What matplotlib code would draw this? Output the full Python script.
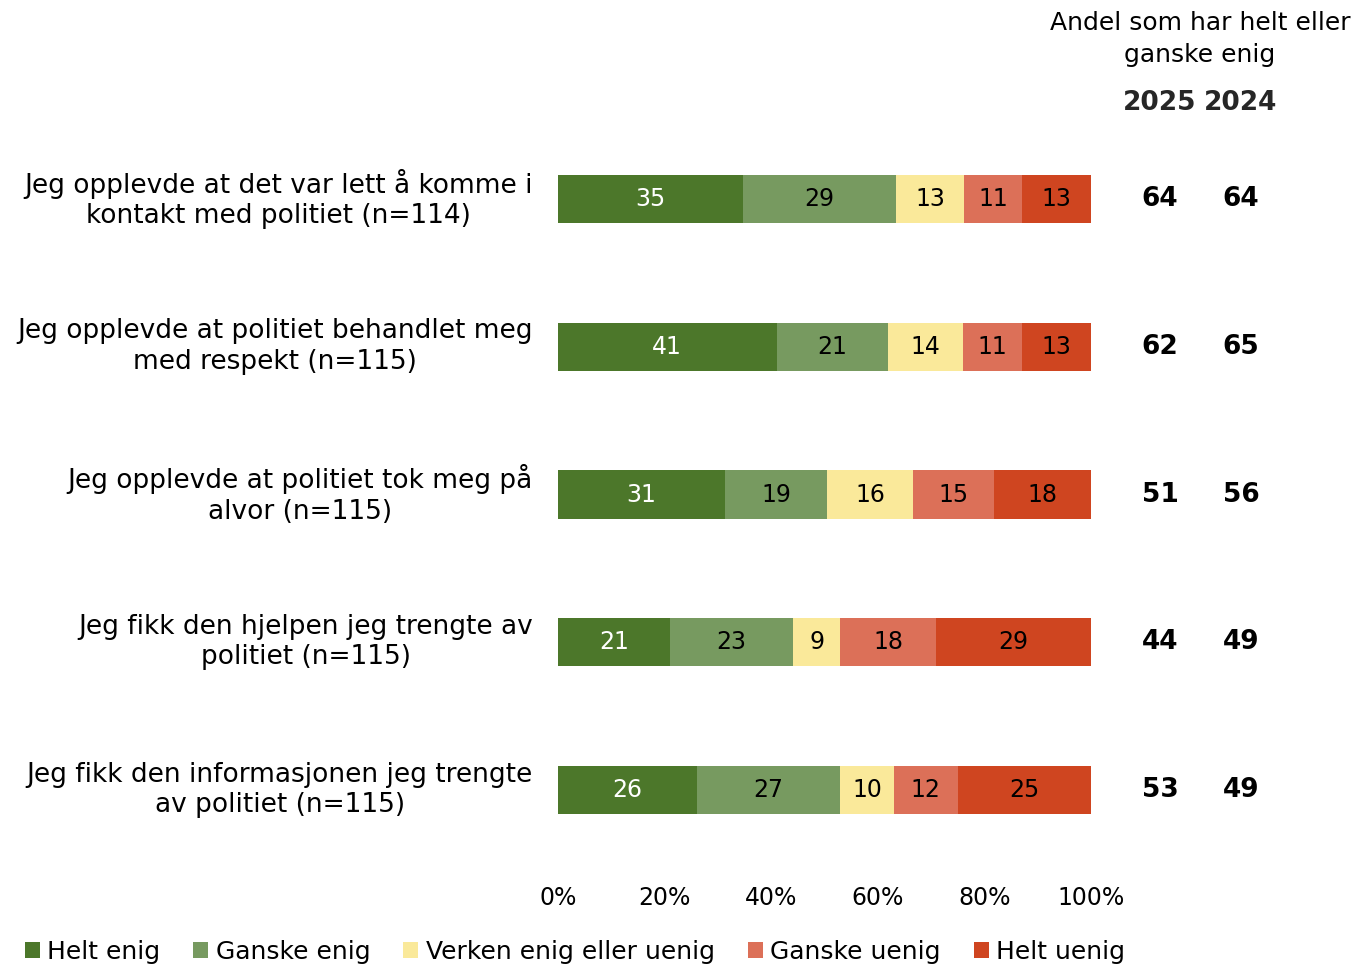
#!/usr/bin/env python3
# -*- coding: utf-8 -*-

import numpy as np
import matplotlib
matplotlib.use("Agg")
import matplotlib.pyplot as plt
from matplotlib.patches import Patch

# Data
questions = [
    "Jeg opplevde at det var lett å komme i\nkontakt med politiet (n=114)",
    "Jeg opplevde at politiet behandlet meg\nmed respekt (n=115)",
    "Jeg opplevde at politiet tok meg på\nalvor (n=115)",
    "Jeg fikk den hjelpen jeg trengte av\npolitiet (n=115)",
    "Jeg fikk den informasjonen jeg trengte\nav politiet (n=115)",
]
categories = ["Helt enig", "Ganske enig", "Verken enig eller uenig",
              "Ganske uenig", "Helt uenig"]
helt_enig = [35, 41, 31, 21, 26]
ganske_enig = [29, 21, 19, 23, 27]
verken = [13, 14, 16, 9, 10]
ganske_uenig = [11, 11, 15, 18, 12]
helt_uenig = [13, 13, 18, 29, 25]
andel_2025 = [64, 62, 51, 44, 53]
andel_2024 = [64, 65, 56, 49, 49]
years = ["2025", "2024"]

colors = ["#4C772A", "#779A60", "#FAE99A", "#DC7058", "#CF4520"]
text_colors = ["white", "black", "black", "black", "black"]

plt.rcParams["font.family"] = ["DejaVu Sans"]

fig = plt.figure(figsize=(13.55, 9.66), dpi=100)
ax = fig.add_axes([558 / 1355, 1 - 864 / 966, 533 / 1355, 739 / 966])

series = np.array([helt_enig, ganske_enig, verken, ganske_uenig, helt_uenig], dtype=float)
# bars are drawn on a 100% scale
shares = series / series.sum(axis=0) * 100
y = np.arange(len(questions))
left = np.zeros(len(questions))
for i, cat in enumerate(categories):
    ax.barh(y, shares[i], left=left, height=0.325, color=colors[i], label=cat)
    for j in range(len(questions)):
        ax.text(left[j] + shares[i][j] / 2, y[j], str(int(series[i][j])),
                ha="center", va="center", fontsize=17, color=text_colors[i])
    left += shares[i]

ax.set_xlim(0, 100)
ax.set_ylim(len(questions) - 0.5, -0.5)
ax.set_xticks(np.arange(0, 101, 20))
ax.set_xticklabels(["%d%%" % v for v in range(0, 101, 20)], fontsize=17)
ax.set_yticks(y)
ax.set_yticklabels(questions, fontsize=19, ma="center", va="center", linespacing=1.22)
ax.tick_params(axis="both", length=0)
ax.tick_params(axis="x", pad=16)
ax.tick_params(axis="y", pad=18)
for s in ax.spines.values():
    s.set_visible(False)

# right-hand columns
x25, x24 = 1160 / 1355, 1241 / 1355
for j in range(len(questions)):
    yy = ax.transData.transform((0, y[j]))[1] / fig.bbox.height
    fig.text(x25, yy, str(andel_2025[j]), ha="center", va="center",
             fontsize=19, fontweight="bold")
    fig.text(x24, yy, str(andel_2024[j]), ha="center", va="center",
             fontsize=19, fontweight="bold")

fig.text(1200 / 1355, 1 - 39 / 966, "Andel som har helt eller\nganske enig",
         ha="center", va="center", fontsize=18, linespacing=1.45)
fig.text(x25, 1 - 103 / 966, years[0], ha="center", va="center",
         fontsize=19, fontweight="bold", color="#262626")
fig.text(x24, 1 - 103 / 966, years[1], ha="center", va="center",
         fontsize=19, fontweight="bold", color="#262626")

handles = [Patch(facecolor=c) for c in colors]
fig.legend(handles, categories, loc="center", bbox_to_anchor=(575 / 1355, 1 - 952 / 966),
           ncol=5, frameon=False, fontsize=18, handlelength=0.6, handleheight=0.6,
           handletextpad=0.3, columnspacing=1.32, borderaxespad=0)

fig.savefig("out.png", dpi=100)
